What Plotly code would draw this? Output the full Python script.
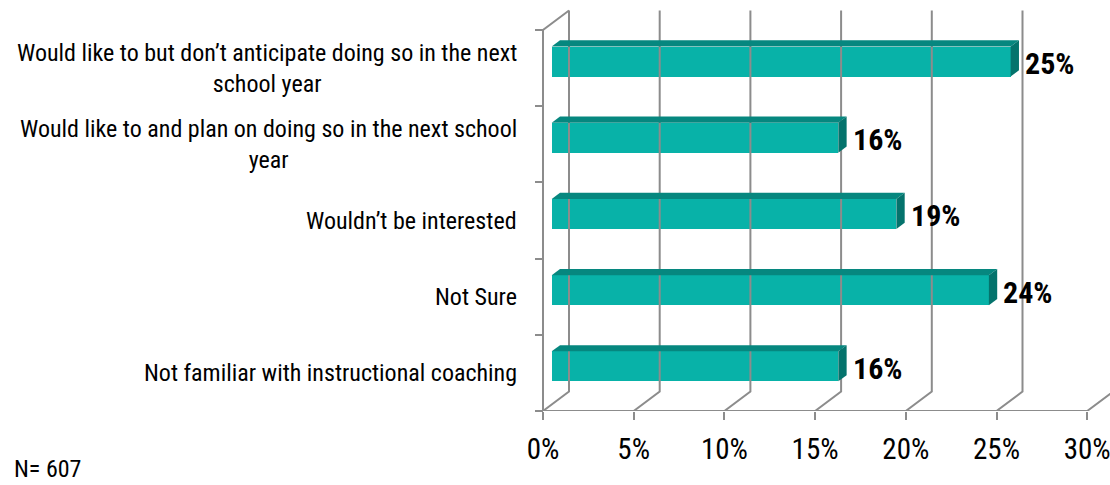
import plotly.graph_objects as go

# ---------------- data ----------------
categories = [
    "Would like to but don\u2019t anticipate doing so in the next<br>school year",
    "Would like to and plan on doing so in the next school<br>year",
    "Wouldn\u2019t be interested",
    "Not Sure",
    "Not familiar with instructional coaching",
]
values = [25.3, 15.8, 19.0, 24.1, 15.8]
value_labels = ["25%", "16%", "19%", "24%", "16%"]
tick_values = [0, 5, 10, 15, 20, 25, 30]
tick_labels = ["0%", "5%", "10%", "15%", "20%", "25%", "30%"]
note_text = "N= 607"

# ---------------- geometry / style ----------------
W, H = 1110, 485
X0_PX = 543.0        # pixel of 0% on front plane
PX_PER_PCT = 18.14
PLOT_L, PLOT_R = 530, 1110
FRONT_Y = 411.0
BAND_PX = 76.2
PLOT_T = 5
DEPTH_DX, DEPTH_DY = 26.0, 19.5
F1, F2 = 0.335, 0.655   # bar depth (front/back) as fraction of floor depth
BAR_H = 30.0 / BAND_PX

FONT = "Liberation Sans Narrow, Arial Narrow, Roboto Condensed, Arial, sans-serif"
GRID = "#8c8c8c"
FRONT_C = "#08b2a8"
TOP_C = "#06877f"
SIDE_C = "#04736c"

n = len(categories)
pos = [n - 1 - i for i in range(n)]
xmin = (PLOT_L - X0_PX) / PX_PER_PCT
xmax = (PLOT_R - X0_PX) / PX_PER_PCT
ymin = -0.5
ymax = -0.5 + (FRONT_Y - PLOT_T) / BAND_PX
dxu = DEPTH_DX / PX_PER_PCT
dyu = DEPTH_DY / BAND_PX
cat_lo, cat_hi = -0.5, n - 0.5
vmax = tick_values[-1]


def proj(v, c, z):
    return v + dxu * z, c + dyu * z


fig = go.Figure()

# walls / gridlines
gx, gy = [], []
for t in tick_values:
    for (v, c, z) in [(t, cat_lo, 0), (t, cat_lo, 1), (t, cat_hi, 1)]:
        px, py = proj(v, c, z)
        gx.append(px); gy.append(py)
    gx.append(None); gy.append(None)
# left wall
for (v, c, z) in [(0, cat_lo, 0), (0, cat_hi, 0), (0, cat_hi, 1)]:
    px, py = proj(v, c, z)
    gx.append(px); gy.append(py)
gx.append(None); gy.append(None)
# front axis line
for (v, c, z) in [(0, cat_lo, 0), (vmax, cat_lo, 0)]:
    px, py = proj(v, c, z)
    gx.append(px); gy.append(py)
fig.add_trace(go.Scatter(x=gx, y=gy, mode="lines",
                         line=dict(color=GRID, width=2),
                         hoverinfo="skip", showlegend=False))

# bar front faces
fig.add_trace(go.Bar(
    orientation="h",
    x=values,
    base=[dxu * F1] * n,
    y=[p + dyu * F1 for p in pos],
    width=[BAR_H] * n,
    marker=dict(color=FRONT_C, line=dict(width=0)),
    showlegend=False, hoverinfo="skip",
))

# top & side faces
for v, p in zip(values, pos):
    top = [(0, p + BAR_H / 2, F1), (v, p + BAR_H / 2, F1),
           (v, p + BAR_H / 2, F2), (0, p + BAR_H / 2, F2), (0, p + BAR_H / 2, F1)]
    tx, ty = zip(*[proj(*q) for q in top])
    fig.add_trace(go.Scatter(x=list(tx), y=list(ty), mode="lines", fill="toself",
                             fillcolor=TOP_C, line=dict(width=0, color=TOP_C),
                             hoverinfo="skip", showlegend=False))
    side = [(v, p - BAR_H / 2, F1), (v, p + BAR_H / 2, F1),
            (v, p + BAR_H / 2, F2), (v, p - BAR_H / 2, F2), (v, p - BAR_H / 2, F1)]
    sx, sy = zip(*[proj(*q) for q in side])
    fig.add_trace(go.Scatter(x=list(sx), y=list(sy), mode="lines", fill="toself",
                             fillcolor=SIDE_C, line=dict(width=0, color=SIDE_C),
                             hoverinfo="skip", showlegend=False))

annotations = []
# value labels
for v, p, lab in zip(values, pos, value_labels):
    lx, _ = proj(v, p, F2)
    _, ly = proj(v, p, F1)
    annotations.append(dict(x=lx, y=ly, xref="x", yref="y", text=lab,
                            showarrow=False, xanchor="left", yanchor="middle",
                            xshift=4, yshift=-2,
                            font=dict(family=FONT, size=30, color="black", weight="bold")))
# category labels
for cat, p in zip(categories, pos):
    annotations.append(dict(x=(519 - PLOT_L) / (PLOT_R - PLOT_L), y=p,
                            xref="paper", yref="y", text=cat, showarrow=False,
                            xanchor="right", yanchor="middle", align="center",
                            font=dict(family=FONT, size=24, color="black")))
# note
annotations.append(dict(x=(12 - PLOT_L) / (PLOT_R - PLOT_L),
                        y=(FRONT_Y - 469) / (FRONT_Y - PLOT_T),
                        xref="paper", yref="paper", text=note_text, showarrow=False,
                        xanchor="left", yanchor="middle",
                        font=dict(family=FONT, size=24, color="black")))

fig.update_layout(
    width=W, height=H,
    margin=dict(l=PLOT_L, r=W - PLOT_R, t=PLOT_T, b=H - FRONT_Y),
    paper_bgcolor="white", plot_bgcolor="white",
    xaxis=dict(range=[xmin, xmax], tickvals=tick_values, ticktext=tick_labels,
               ticks="outside", ticklen=8, tickwidth=2, tickcolor=GRID,
               showgrid=False, zeroline=False, showline=False,
               ticklabeloverflow="allow", ticklabelstandoff=4,
               tickfont=dict(family=FONT, size=29, color="black"),
               fixedrange=True),
    yaxis=dict(range=[ymin, ymax], anchor="free",
               position=(X0_PX - PLOT_L) / (PLOT_R - PLOT_L),
               tickvals=[cat_lo + k for k in range(n + 1)],
               ticks="outside", ticklen=8, tickwidth=2, tickcolor=GRID,
               showticklabels=False, showgrid=False, zeroline=False, showline=False,
               fixedrange=True),
    annotations=annotations,
    bargap=0,
)

fig.write_html("out.html", config={"displayModeBar": False},
               post_script="document.body.style.margin='0';document.body.style.overflow='hidden';")
